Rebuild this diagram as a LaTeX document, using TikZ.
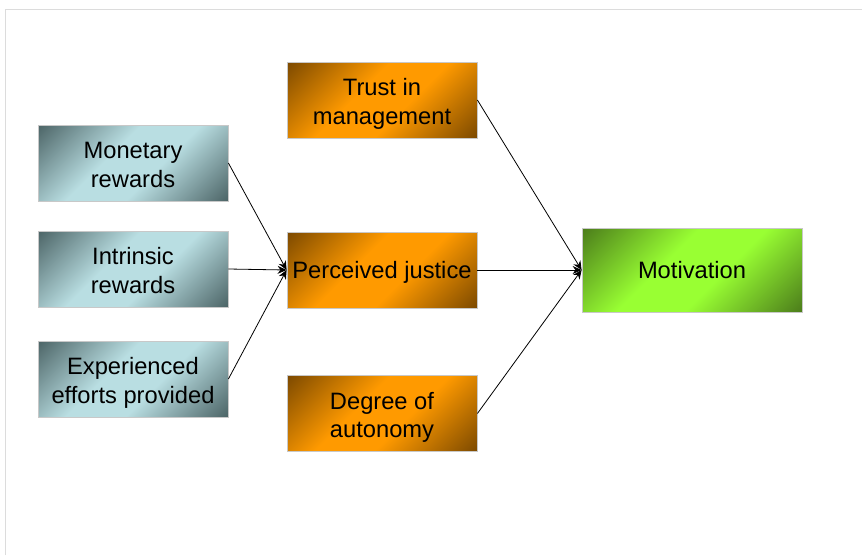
\documentclass[tikz,border=0pt]{standalone}
\usepackage{fontspec}
\setmainfont{Liberation Sans}
\usetikzlibrary{arrows.meta}
\definecolor{bluelight}{HTML}{B9DEE2}
\definecolor{bluedark}{HTML}{4A6264}
\definecolor{orangelight}{HTML}{FF9A00}
\definecolor{orangedark}{HTML}{7A4800}
\definecolor{greenlight}{HTML}{99FF33}
\definecolor{greendark}{HTML}{4A7A1A}
\definecolor{framegray}{HTML}{DCDCDC}
\definecolor{boxborder}{HTML}{C8C8C8}
\pgfdeclareverticalshading{blueshade}{100bp}{color(0bp)=(bluedark); color(14bp)=(bluedark); color(42bp)=(bluelight); color(58bp)=(bluelight); color(86bp)=(bluedark); color(100bp)=(bluedark)}
\pgfdeclareverticalshading{orangeshade}{100bp}{color(0bp)=(orangedark); color(14bp)=(orangedark); color(42bp)=(orangelight); color(58bp)=(orangelight); color(86bp)=(orangedark); color(100bp)=(orangedark)}
\pgfdeclareverticalshading{greenshade}{100bp}{color(0bp)=(greendark); color(14bp)=(greendark); color(42bp)=(greenlight); color(58bp)=(greenlight); color(86bp)=(greendark); color(100bp)=(greendark)}
\tikzset{
  box/.style={draw=boxborder, line width=0.8pt, rectangle, align=center, inner sep=0pt,
    font=\fontsize{23.7}{28.5}\selectfont, text=black, shading angle=45,
    text height=48pt, text depth=0pt},
  oneline/.style={text height=17.5pt, text depth=0pt},
  bluebox/.style={box, shading=blueshade, minimum width=190pt, minimum height=76pt},
  orangebox/.style={box, shading=orangeshade, minimum width=190pt, minimum height=76pt},
  greenbox/.style={box, shading=greenshade, minimum width=220pt, minimum height=84pt},
  link/.style={draw=black, line width=0.8pt, -{Stealth[length=9pt,width=8pt]}}
}
\begin{document}
\begin{tikzpicture}[x=1pt,y=-1pt]
\useasboundingbox (0,0) rectangle (862,555);
\draw[framegray, line width=1pt] (5,555) -- (5,9) -- (862,9);
\node[bluebox] (monetary) at (133,163) {Monetary\\rewards};
\node[bluebox] (intrinsic) at (133,269) {Intrinsic\\rewards};
\node[bluebox] (efforts) at (133,379) {Experienced\\efforts provided};
\node[orangebox] (trust) at (382,100) {Trust in\\management};
\node[orangebox, oneline] (justice) at (382,270) {Perceived justice};
\node[orangebox] (autonomy) at (382,413.5) {Degree of\\autonomy};
\node[greenbox, oneline] (motivation) at (692,270) {Motivation};
\draw[link] (monetary.east) -- (justice.west);
\draw[link] (intrinsic.east) -- (justice.west);
\draw[link] (efforts.east) -- (justice.west);
\draw[link] (trust.east) -- (motivation.west);
\draw[link] (justice.east) -- (motivation.west);
\draw[link] (autonomy.east) -- (motivation.west);
\end{tikzpicture}
\end{document}
